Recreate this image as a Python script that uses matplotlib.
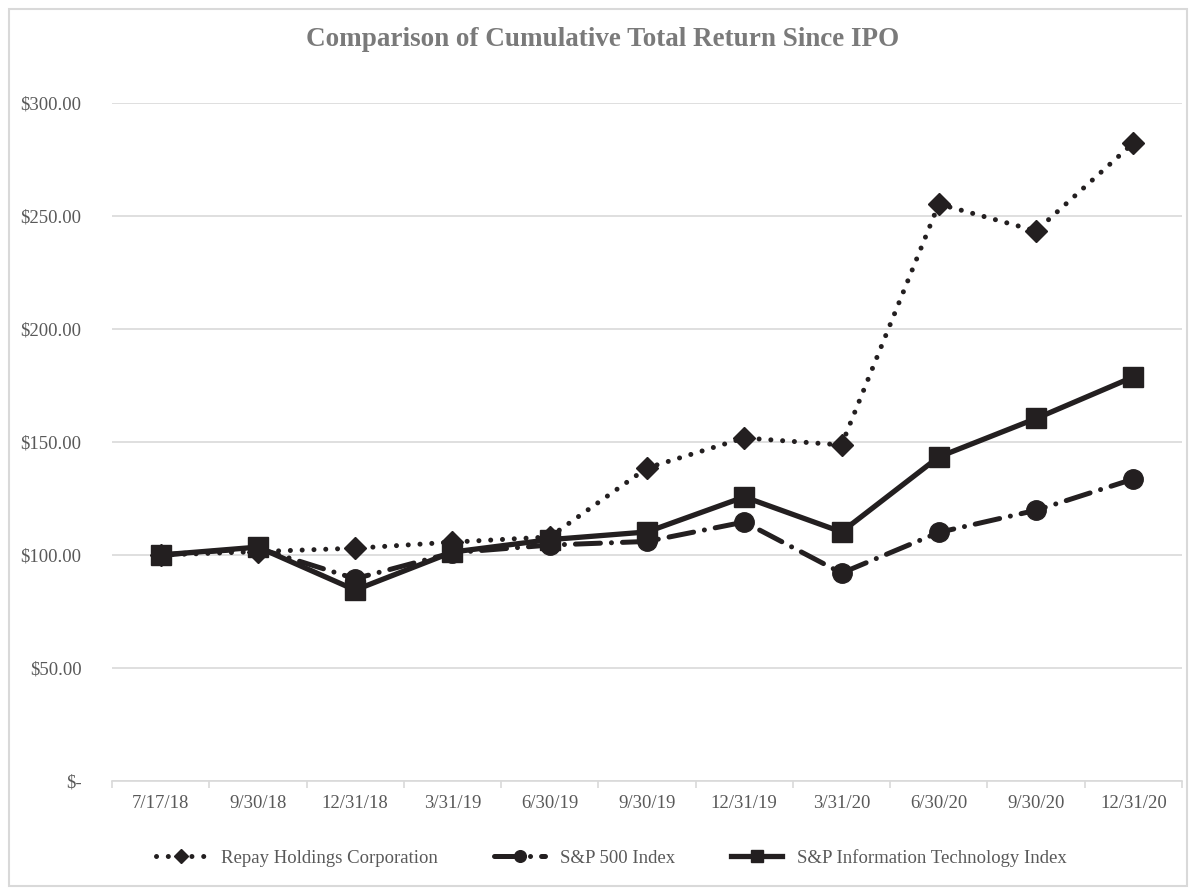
import matplotlib
matplotlib.use("Agg")
import matplotlib.pyplot as plt
from matplotlib.patches import Rectangle
from matplotlib.ticker import FuncFormatter, MultipleLocator

# data
dates = ["7/17/18", "9/30/18", "12/31/18", "3/31/19", "6/30/19", "9/30/19",
         "12/31/19", "3/31/20", "6/30/20", "9/30/20", "12/31/20"]
repay = [100.0, 101.5, 103.0, 105.7, 108.0, 138.5, 151.8, 148.7, 255.3, 243.4, 282.3]
sp500 = [100.0, 103.0, 89.5, 101.0, 104.4, 106.0, 114.6, 92.0, 110.0, 119.8, 133.6]
sp_it = [100.0, 103.5, 84.5, 101.3, 106.8, 110.2, 125.7, 110.2, 143.4, 160.4, 178.8]

INK = "#231f20"
TXT = "#595959"
GRID = "#d9d9d9"

plt.rcParams["font.family"] = ["Liberation Serif", "DejaVu Serif"]

fig = plt.figure(figsize=(11.89, 8.88), dpi=100)
ax = fig.add_axes([112 / 1189, 1 - 781 / 888, 1070 / 1189, (781 - 103) / 888])

# outer border like the excel chart area
fig.patches.append(Rectangle((9 / 1189, 2 / 888), 1178 / 1189, 877 / 888,
                             transform=fig.transFigure, fill=False,
                             edgecolor=GRID, linewidth=1.5))

x = list(range(len(dates)))

ax.plot(x, repay, color=INK, linewidth=3.6, linestyle=(0, (0.01, 2.35)),
        dash_capstyle="round", marker="D", markersize=11.5,
        label="Repay Holdings Corporation", zorder=3)
ax.plot(x, sp500, color=INK, linewidth=3.6, linestyle=(0, (5, 2.2, 0.01, 2.2)),
        dash_capstyle="round", marker="o", markersize=14,
        label="S&P 500 Index", zorder=3)
ax.plot(x, sp_it, color=INK, linewidth=3.8, linestyle="-",
        marker="s", markersize=15, label="S&P Information Technology Index", zorder=4)

ax.set_xlim(-0.5, len(dates) - 0.5)
ax.set_ylim(0, 300)
ax.set_xticks(x)
ax.set_xticklabels(dates)
ax.set_xticks([i - 0.5 for i in range(len(dates) + 1)], minor=True)
ax.tick_params(axis="x", which="major", length=0, pad=10, labelsize=13.5, labelcolor=TXT)
ax.tick_params(axis="x", which="minor", length=5, color=GRID, width=1.2)
ax.yaxis.set_major_locator(MultipleLocator(50))
ax.yaxis.set_major_formatter(FuncFormatter(lambda v, p: "$-" if v == 0 else f"${v:,.2f}"))
ax.tick_params(axis="y", length=0, pad=22, labelsize=13.5, labelcolor=TXT)
ax.grid(axis="y", color=GRID, linewidth=1.2)
ax.set_axisbelow(True)
for s in ["top", "right", "left"]:
    ax.spines[s].set_visible(False)
ax.spines["bottom"].set_color(GRID)
ax.spines["bottom"].set_linewidth(1.2)

fig.text(0.507, 1 - 40 / 888, "Comparison of Cumulative Total Return Since IPO",
         ha="center", va="center", fontsize=19.5, fontweight="bold", color="#7a7a7a")

leg = fig.legend(loc="center", bbox_to_anchor=(0.514, 1 - 858 / 888), ncol=3,
                 frameon=False, fontsize=13.5, handlelength=2.7, handletextpad=0.8,
                 columnspacing=3.0, markerscale=0.6)
for t in leg.get_texts():
    t.set_color(TXT)

fig.savefig("out.png", dpi=100)
